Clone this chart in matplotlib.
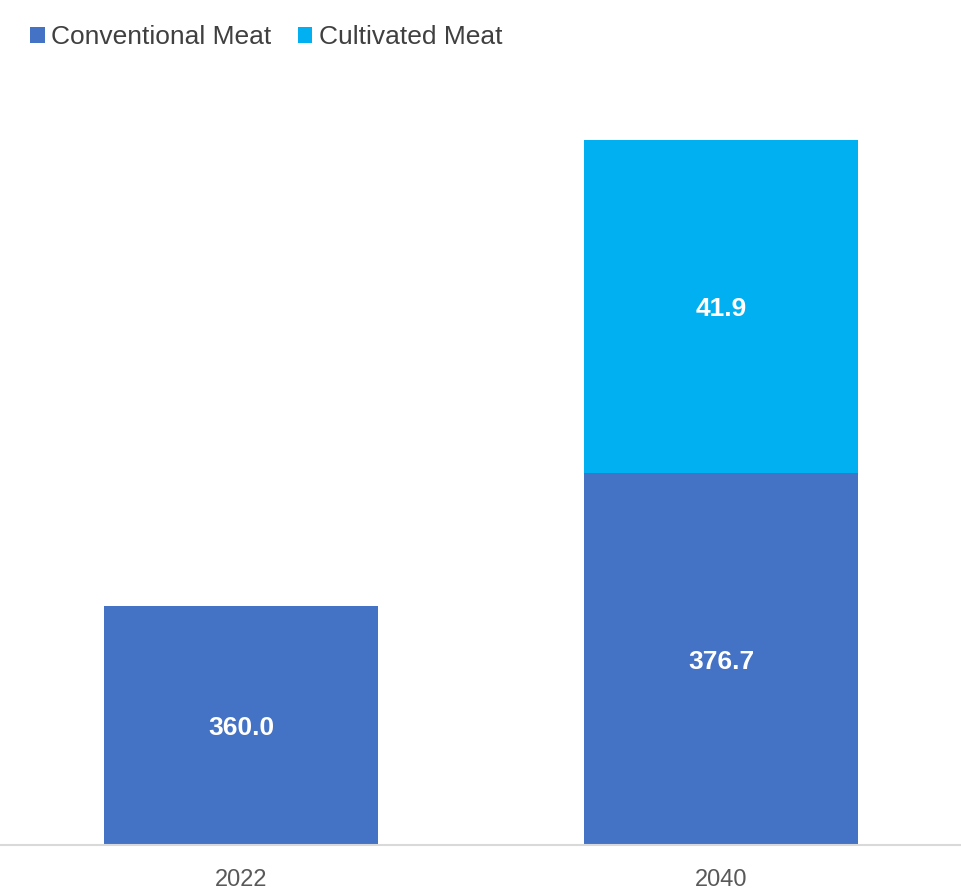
import matplotlib.pyplot as plt
import numpy as np

# data
years = ['2022', '2040']
conventional = [360.0, 376.7]
cultivated = [0.0, 41.9]

plt.rcParams['font.family'] = ['Liberation Sans', 'DejaVu Sans']

fig = plt.figure(figsize=(9.62, 8.9), dpi=100)
ax = fig.add_axes([1/962, 45/890, 960/962, 1 - 89/890 - 45/890])

x = np.arange(len(years))
width = 0.571
b1 = ax.bar(x, conventional, width, color='#4472C4', label='Conventional Meat')
b2 = ax.bar(x, cultivated, width, bottom=conventional, color='#00B0F0', label='Cultivated Meat')

# value labels in the middle of each segment
for i in range(len(years)):
    ax.text(x[i], (330 + conventional[i]) / 2 - 0.3, '{:.1f}'.format(conventional[i]),
            ha='center', va='center', color='white', fontsize=19, fontweight='bold')
    if cultivated[i] > 0:
        ax.text(x[i], conventional[i] + cultivated[i] / 2 - 0.3, '{:.1f}'.format(cultivated[i]),
                ha='center', va='center', color='white', fontsize=19, fontweight='bold')

ax.set_ylim(330, 425)
ax.set_xlim(-0.5, 1.5)
ax.set_xticks(x)
ax.set_xticklabels(years, fontsize=17, color='#595959')
ax.tick_params(axis='x', length=0, pad=17)
ax.set_yticks([])
for s in ['top', 'left', 'right']:
    ax.spines[s].set_visible(False)
ax.spines['bottom'].set_color('#D9D9D9')
ax.spines['bottom'].set_linewidth(1.5)

fig.legend(handles=[b1, b2], loc='upper left', bbox_to_anchor=(30/962, 1 - 25/890), ncol=2,
           frameon=False, fontsize=19, handlelength=0.55, handleheight=0.55,
           handletextpad=0.25, columnspacing=1.0, borderaxespad=0, borderpad=0,
           labelcolor='#404040')

fig.savefig('out.png', dpi=100)
